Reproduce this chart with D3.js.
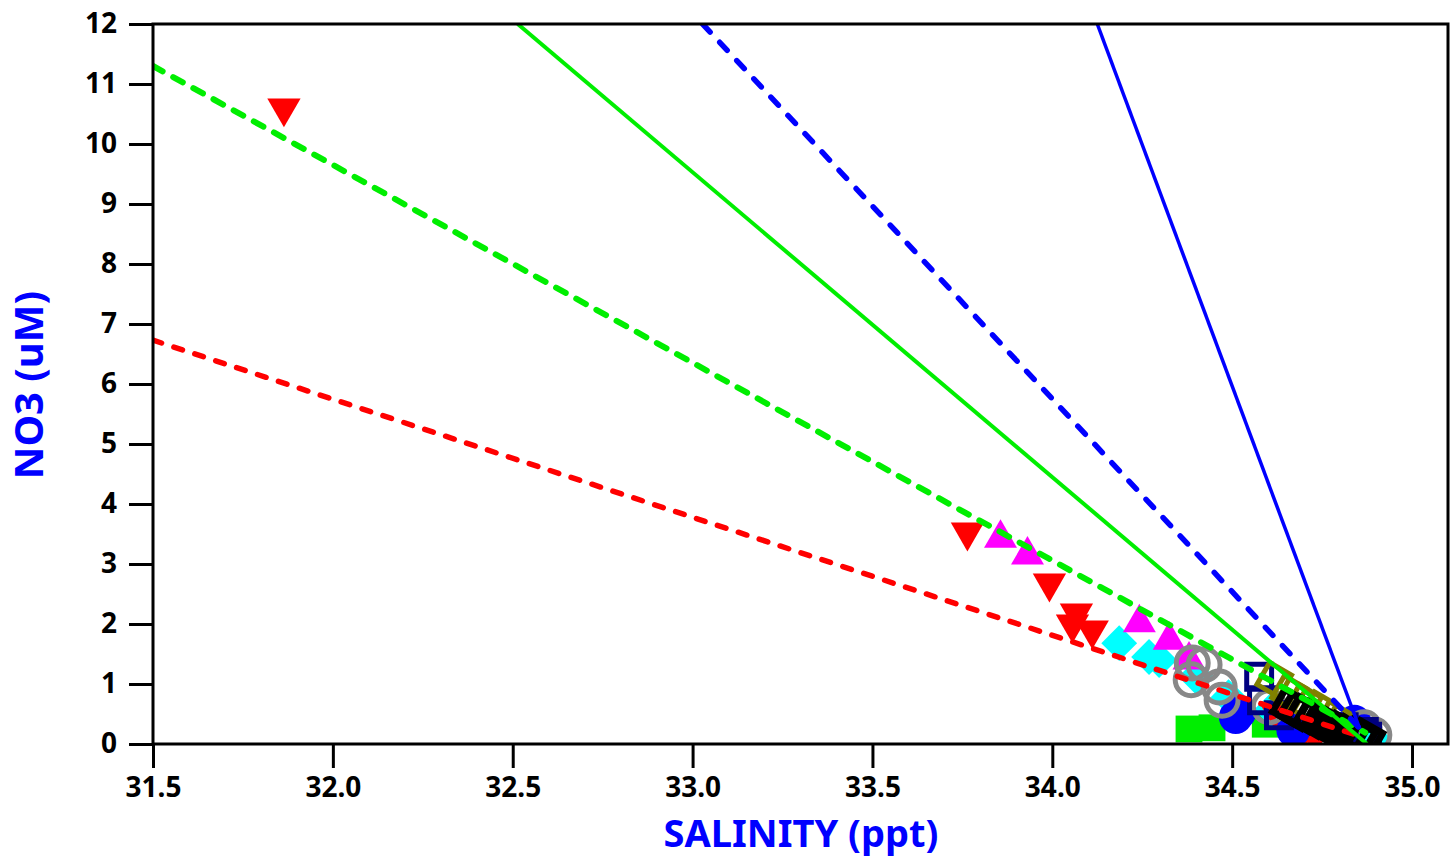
<!DOCTYPE html>
<html>
<head>
<meta charset="utf-8">
<script src="https://cdn.jsdelivr.net/npm/d3@7"></script>
<style>
  body { margin: 0; background: #fff; }
  text { font-family: "Noto Sans", "DejaVu Sans", sans-serif; font-weight: bold; }
</style>
</head>
<body>
<div id="chart"></div>
<script>
// salinity (ppt), NO3 (uM) pairs per station group
var redDown = [[31.864, 10.6], [33.764, 3.53], [33.992, 2.68], [34.067, 2.18], [34.056, 2.0], [34.111, 1.9],
               [34.62, 0.55], [34.69, 0.14], [34.73, 0.13]]
var magentaUp = [[33.856, 3.43], [33.931, 3.15], [34.242, 2.02], [34.325, 1.73], [34.38, 1.4]]
var cyanDiamond = [[34.186, 1.68], [34.269, 1.45], [34.297, 1.4], [34.40, 1.12], [34.49, 0.78], [34.61, 0.57],
                   [34.66, 0.32], [34.89, 0.1]]
var greenSquare = [[34.38, 0.25], [34.444, 0.27], [34.592, 0.33]]
var blueCircle = [[34.52, 0.53], [34.51, 0.45], [34.67, 0.23], [34.84, 0.37]]
var grayCircle = [[34.389, 1.35], [34.422, 1.32], [34.386, 1.07], [34.464, 0.95], [34.472, 0.73],
                  [34.603, 0.62], [34.867, 0.27], [34.894, 0.15]]
var navySquare = [[34.575, 1.12], [34.583, 0.73], [34.63, 0.48], [34.81, 0.28], [34.866, 0.2], [34.875, 0.12]]
var oliveDiamond = [[34.617, 1.07], [34.658, 0.85], [34.70, 0.7], [34.742, 0.58], [34.783, 0.42]]
var blackDiamond = [[34.66, 0.62], [34.68, 0.55], [34.70, 0.5], [34.725, 0.42], [34.75, 0.35], [34.775, 0.28],
                    [34.80, 0.22], [34.825, 0.16], [34.85, 0.12], [34.87, 0.1]]

// mixing lines (start, end)
var redDashed = [[31.5, 6.73], [34.84, 0.16]]
var greenDashed = [[31.5, 11.3], [34.87, 0.19]]
var greenSolid = [[32.514, 12], [34.875, 0]]
var blueDashed = [[33.028, 12], [34.87, 0.16]]
var blueSolid = [[34.125, 12], [34.855, 0.25]]

var xTicks = [31.5, 32.0, 32.5, 33.0, 33.5, 34.0, 34.5, 35.0]
var yTicks = [0, 1, 2, 3, 4, 5, 6, 7, 8, 9, 10, 11, 12]

var width = 1453, height = 861
var margin = {left: 153, right: 5, top: 24, bottom: 117}

var svg = d3.select('#chart').append('svg')
  .attr('width', width)
  .attr('height', height)

var x = d3.scaleLinear().domain([31.5, 35.1]).range([margin.left, width - margin.right])
var y = d3.scaleLinear().domain([0, 12]).range([height - margin.bottom, margin.top])

svg.append('clipPath').attr('id', 'clip')
  .append('rect')
  .attr('x', x(31.5)).attr('y', y(12))
  .attr('width', x(35.1) - x(31.5)).attr('height', y(0) - y(12))

var plot = svg.append('g').attr('clip-path', 'url(#clip)')

// markers
function addSymbols(data, type, size, fill, stroke, sw, rot) {
  plot.append('g').selectAll('path')
    .data(data)
    .enter()
    .append('path')
      .attr('d', d3.symbol().type(type).size(size))
      .attr('transform', function(d) {
        return 'translate(' + x(d[0]) + ',' + y(d[1]) + ') rotate(' + (rot || 0) + ')'
      })
      .attr('fill', fill)
      .attr('stroke', stroke)
      .attr('stroke-width', sw)
}

addSymbols(greenSquare, d3.symbolSquare, 720, '#00ee00', 'none', 0)
addSymbols(cyanDiamond, d3.symbolSquare, 640, '#00ffff', 'none', 0, 45)
addSymbols(magentaUp, d3.symbolTriangle, 470, '#ff00ff', 'none', 0)
addSymbols(redDown, d3.symbolTriangle, 480, '#ff0000', 'none', 0, 180)
addSymbols(blueCircle, d3.symbolCircle, 900, '#0000ff', 'none', 0)
addSymbols(grayCircle, d3.symbolCircle, 800, 'none', '#888888', 5)
addSymbols(navySquare, d3.symbolSquare, 620, 'none', '#000080', 5)
addSymbols(oliveDiamond, d3.symbolSquare, 640, 'none', '#808000', 5, 30)
addSymbols(blackDiamond, d3.symbolSquare, 640, 'none', '#000000', 7, 30)

// lines
var line = d3.line().x(function(d) { return x(d[0]) }).y(function(d) { return y(d[1]) })

function addLine(data, color, w, dash) {
  plot.append('path')
    .datum(data)
    .attr('d', line)
    .attr('fill', 'none')
    .attr('stroke', color)
    .attr('stroke-width', w)
    .attr('stroke-linecap', dash ? 'round' : 'butt')
    .attr('stroke-dasharray', dash || null)
}

addLine(redDashed, '#ff0000', 5.5, '9,13')
addLine(greenDashed, '#00ee00', 6, '11,12')
addLine(greenSolid, '#00ee00', 4)
addLine(blueDashed, '#0000ff', 5.5, '11,14')
addLine(blueSolid, '#0000ff', 3.5)

// axes
var xAxis = svg.append('g').attr('transform', 'translate(0,' + y(0) + ')')
xAxis.call(d3.axisBottom(x).tickValues(d3.range(31.5, 35.01, 0.25)).tickFormat('').tickSize(13))
xAxis.call(d3.axisBottom(x).tickValues(xTicks).tickFormat(d3.format('.1f')).tickSize(24).tickPadding(9))
xAxis.selectAll('.tick text').attr('font-size', 28).attr('fill', '#000')

var yAxis = svg.append('g').attr('transform', 'translate(' + x(31.5) + ',0)')
yAxis.call(d3.axisLeft(y).tickValues(d3.range(0.5, 12, 1)).tickFormat('').tickSize(13))
yAxis.call(d3.axisLeft(y).tickValues(yTicks).tickFormat(d3.format('d')).tickSize(24).tickPadding(12))
yAxis.selectAll('.tick text').attr('font-size', 28).attr('fill', '#000')

svg.selectAll('.domain').remove()
svg.selectAll('.tick line').attr('stroke', '#000').attr('stroke-width', 3)

// frame
svg.append('rect')
  .attr('x', x(31.5)).attr('y', y(12))
  .attr('width', x(35.1) - x(31.5)).attr('height', y(0) - y(12))
  .attr('fill', 'none').attr('stroke', '#000').attr('stroke-width', 3)

// axis titles
svg.append('text')
  .attr('x', 801).attr('y', 847)
  .attr('text-anchor', 'middle')
  .attr('font-size', 38)
  .attr('fill', '#0000ff')
  .text('SALINITY (ppt)')

svg.append('text')
  .attr('transform', 'translate(43,385) rotate(-90)')
  .attr('text-anchor', 'middle')
  .attr('font-size', 40)
  .attr('fill', '#0000ff')
  .text('NO3 (uM)')
</script>
</body>
</html>
